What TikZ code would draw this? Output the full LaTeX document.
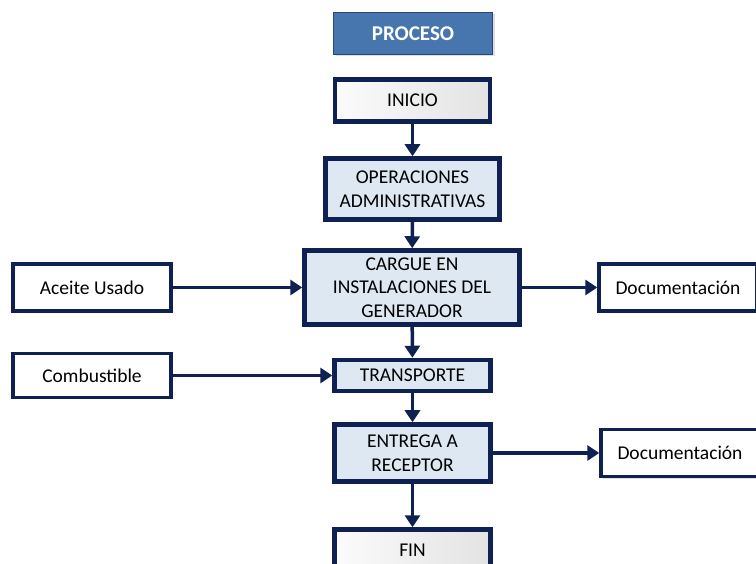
\documentclass[tikz,border=0pt]{standalone}
\usepackage{fontspec}
\setmainfont{Carlito}
\usetikzlibrary{arrows.meta,shadows}
\definecolor{navy}{RGB}{14,33,82}
\definecolor{paleblue}{RGB}{221,232,243}
\definecolor{steel}{RGB}{70,118,173}
\definecolor{steeldark}{RGB}{40,70,120}

\begin{document}
\begin{tikzpicture}[x=1pt,y=-1pt,
    sombra/.style={drop shadow={shadow xshift=2pt,shadow yshift=-2pt,opacity=0.25}},
    titulo/.style={draw=steeldark,line width=1.2pt,fill=steel,text=white,inner sep=0pt,
        font=\fontsize{21}{25}\selectfont\bfseries,sombra},
    paso/.style={draw=navy,line width=4.5pt,fill=paleblue,align=center,inner sep=0pt,
        font=\fontsize{19.5}{23.5}\selectfont,sombra},
    extremo/.style={paso,left color=gray!3,right color=gray!22},
    externo/.style={draw=navy,line width=3.5pt,fill=white,inner sep=0pt,minimum width=158pt,
        minimum height=47pt,font=\fontsize{19.5}{23.5}\selectfont,sombra},
    flecha/.style={draw=navy,line width=3.5pt,-{Triangle[length=12pt,width=15pt]}}]
    \useasboundingbox (0,0) rectangle (756,564);
    \clip (0,0) rectangle (756,564);
    \node[titulo,minimum width=159pt,minimum height=42pt] (proceso) at (413,33.5) {PROCESO};
    \node[extremo,minimum width=155pt,minimum height=42pt] (inicio) at (412.5,100.5) {INICIO};
    \node[paso,minimum width=174pt,minimum height=61pt] (operaciones) at (412.5,189) {OPERACIONES\\ADMINISTRATIVAS};
    \node[paso,minimum width=215pt,minimum height=74pt] (cargue) at (412,287.5) {CARGUE EN\\INSTALACIONES DEL\\GENERADOR};
    \node[paso,minimum width=156pt,minimum height=31pt] (transporte) at (412.5,375.5) {TRANSPORTE};
    \node[paso,minimum width=156pt,minimum height=57pt] (entrega) at (412.5,453) {ENTREGA A\\RECEPTOR};
    \node[extremo,minimum width=156pt,minimum height=42pt] (fin) at (412.5,550.5) {FIN};
    \node[externo] (aceite) at (92,287.5) {Aceite Usado};
    \node[externo,minimum height=44pt] (combustible) at (92,375.5) {Combustible};
    \node[externo] (doc1) at (678,287.5) {Documentación};
    \node[externo] (doc2) at (680,453) {Documentación};
    \draw[flecha] (inicio) -- (operaciones);
    \draw[flecha] (operaciones) -- (cargue);
    \draw[flecha] (cargue) -- (transporte);
    \draw[flecha] (transporte) -- (entrega);
    \draw[flecha] (entrega) -- (fin);
    \draw[flecha] (aceite) -- (cargue);
    \draw[flecha] (combustible) -- (transporte);
    \draw[flecha] (cargue) -- (doc1);
    \draw[flecha] (entrega) -- (doc2);
\end{tikzpicture}
\end{document}
